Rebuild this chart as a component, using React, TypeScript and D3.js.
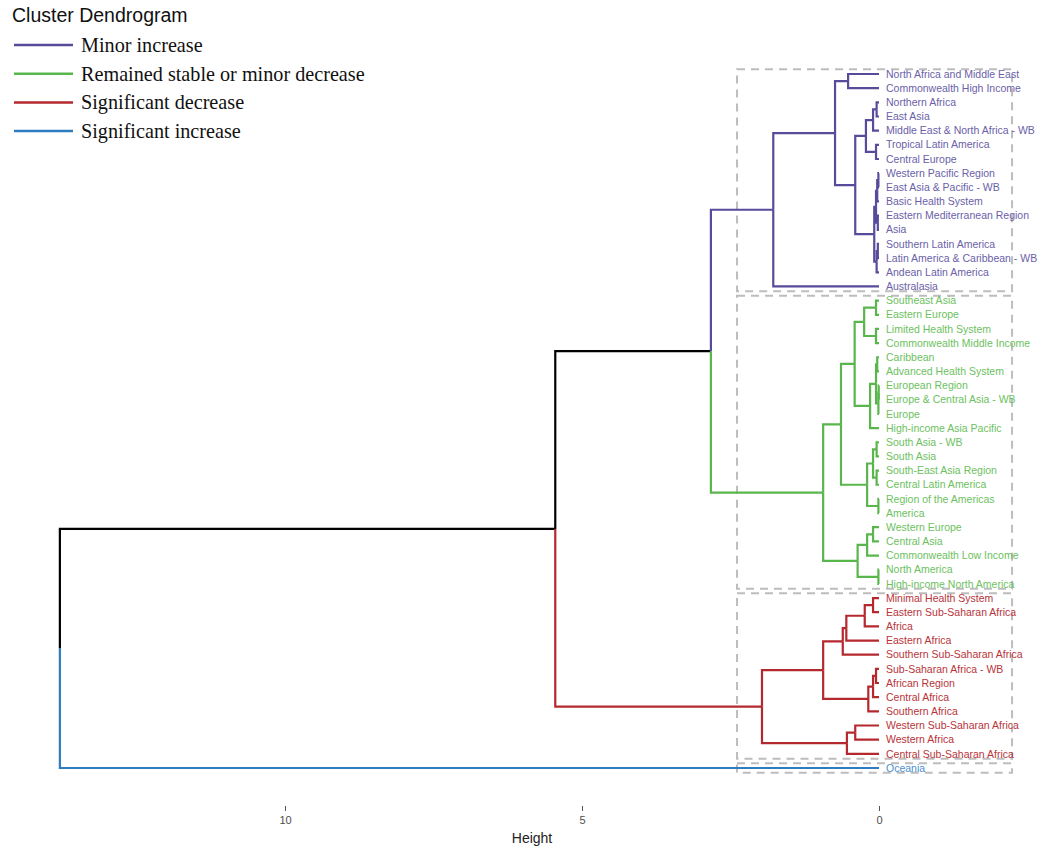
import React, { useEffect, useRef } from 'react';
import * as d3 from 'd3';

// cluster membership (top-to-bottom leaf order)
const minorIncrease = [
  'North Africa and Middle East', 'Commonwealth High Income', 'Northern Africa', 'East Asia',
  'Middle East & North Africa - WB', 'Tropical Latin America', 'Central Europe',
  'Western Pacific Region', 'East Asia & Pacific - WB', 'Basic Health System',
  'Eastern Mediterranean Region', 'Asia', 'Southern Latin America',
  'Latin America & Caribbean - WB', 'Andean Latin America', 'Australasia',
];
const stableOrMinorDecrease = [
  'Southeast Asia', 'Eastern Europe', 'Limited Health System', 'Commonwealth Middle Income',
  'Caribbean', 'Advanced Health System', 'European Region', 'Europe & Central Asia - WB',
  'Europe', 'High-income Asia Pacific', 'South Asia - WB', 'South Asia',
  'South-East Asia Region', 'Central Latin America', 'Region of the Americas', 'America',
  'Western Europe', 'Central Asia', 'Commonwealth Low Income', 'North America',
  'High-income North America',
];
const significantDecrease = [
  'Minimal Health System', 'Eastern Sub-Saharan Africa', 'Africa', 'Eastern Africa',
  'Southern Sub-Saharan Africa', 'Sub-Saharan Africa - WB', 'African Region', 'Central Africa',
  'Southern Africa', 'Western Sub-Saharan Africa', 'Western Africa', 'Central Sub-Saharan Africa',
];
const significantIncrease = ['Oceania'];

// hclust-style merges: [left, right, height]; numbers point to earlier merges
const merges: [string | number, string | number, number][] = [
  // minor increase
  ['Northern Africa', 'East Asia', 0.04], // 0
  [0, 'Middle East & North Africa - WB', 0.1], // 1
  ['Tropical Latin America', 'Central Europe', 0.05], // 2
  [1, 2, 0.22], // 3
  ['Western Pacific Region', 'East Asia & Pacific - WB', 0.01], // 4
  [4, 'Basic Health System', 0.03], // 5
  ['Eastern Mediterranean Region', 'Asia', 0.02], // 6
  [5, 6, 0.05], // 7
  ['Southern Latin America', 'Latin America & Caribbean - WB', 0.02], // 8
  [8, 'Andean Latin America', 0.04], // 9
  [7, 9, 0.08], // 10
  [3, 10, 0.4], // 11
  ['North Africa and Middle East', 'Commonwealth High Income', 0.52], // 12
  [12, 11, 0.74], // 13
  [13, 'Australasia', 1.78], // 14
  // remained stable or minor decrease
  ['Southeast Asia', 'Eastern Europe', 0.05], // 15
  ['Limited Health System', 'Commonwealth Middle Income', 0.05], // 16
  [15, 16, 0.25], // 17
  ['Caribbean', 'Advanced Health System', 0.03], // 18
  ['European Region', 'Europe & Central Asia - WB', 0.005], // 19
  [19, 'Europe', 0.01], // 20
  [18, 20, 0.05], // 21
  [21, 'High-income Asia Pacific', 0.15], // 22
  [17, 22, 0.41], // 23
  ['South Asia - WB', 'South Asia', 0.04], // 24
  ['South-East Asia Region', 'Central Latin America', 0.04], // 25
  [24, 25, 0.1], // 26
  ['Region of the Americas', 'America', 0.01], // 27
  [26, 27, 0.2], // 28
  [23, 28, 0.64], // 29
  ['Western Europe', 'Central Asia', 0.1], // 30
  [30, 'Commonwealth Low Income', 0.2], // 31
  ['North America', 'High-income North America', 0.01], // 32
  [31, 32, 0.36], // 33
  [29, 33, 0.94], // 34
  // significant decrease
  ['Minimal Health System', 'Eastern Sub-Saharan Africa', 0.1], // 35
  [35, 'Africa', 0.24], // 36
  [36, 'Eastern Africa', 0.55], // 37
  [37, 'Southern Sub-Saharan Africa', 0.61], // 38
  ['Sub-Saharan Africa - WB', 'African Region', 0.05], // 39
  [39, 'Central Africa', 0.1], // 40
  [40, 'Southern Africa', 0.18], // 41
  [38, 41, 0.94], // 42
  ['Western Sub-Saharan Africa', 'Western Africa', 0.4], // 43
  [43, 'Central Sub-Saharan Africa', 0.54], // 44
  [42, 44, 1.97], // 45
  // top of tree
  [14, 34, 2.83], // 46
  [46, 45, 5.45], // 47
  [47, 'Oceania', 13.79], // 48
];

const legendLabels = ['Minor increase', 'Remained stable or minor decrease', 'Significant decrease', 'Significant increase'];
const lineColors = ['#574b9b', '#59b64c', '#b5282e', '#2e7dc0'];
const textColors = ['#6a61a8', '#6cc160', '#b8343a', '#4a8fcf'];
const clusters = [minorIncrease, stableOrMinorDecrease, significantDecrease, significantIncrease];
const heightTicks = [10, 5, 0];

interface TreeNode {
  name?: string;
  height: number;
  children?: TreeNode[];
}

const build = (ref: string | number): TreeNode => {
  if (typeof ref === 'string') return { name: ref, height: 0 };
  const [l, r, h] = merges[ref];
  return { height: h, children: [build(l), build(r)] };
};

const clusterOf = (name: string) => clusters.findIndex(c => c.includes(name));

export default function App() {
  const svgRef = useRef<SVGSVGElement>(null);

  useEffect(() => {
    if (!svgRef.current) return;
    const svg = d3.select(svgRef.current);
    svg.selectAll('*').remove();

    const root = d3.hierarchy<TreeNode>(build(merges.length - 1));
    const leafNames = root.leaves().map(d => d.data.name as string);

    const x = d3.scaleLinear().domain([0, 10]).range([879, 285]);
    const y = d3.scalePoint<string>().domain(leafNames).range([74, 768]);
    const step = y.step();

    const yPos = new Map<any, number>();
    const grp = new Map<any, number>();
    root.eachAfter(n => {
      if (!n.children) {
        yPos.set(n, y(n.data.name as string) as number);
        grp.set(n, clusterOf(n.data.name as string));
      } else {
        yPos.set(n, d3.mean(n.children, c => yPos.get(c)) as number);
        const gs = n.children.map(c => grp.get(c));
        grp.set(n, gs.every(g => g === gs[0]) ? (gs[0] as number) : -1);
      }
    });

    svg.append('rect').attr('width', 1040).attr('height', 854).attr('fill', '#fff');

    // cluster rectangles
    clusters.forEach(c => {
      const top = (y(c[0]) as number) - step * 0.34;
      const bottom = (y(c[c.length - 1]) as number) + step * 0.34;
      svg
        .append('rect')
        .attr('x', x(2.39))
        .attr('y', top)
        .attr('width', x(-2.24) - x(2.39))
        .attr('height', bottom - top)
        .attr('fill', 'none')
        .attr('stroke', '#bdbdbd')
        .attr('stroke-width', 2)
        .attr('stroke-dasharray', '8,6');
    });

    // links
    svg
      .append('g')
      .selectAll('path')
      .data(root.descendants().filter(d => d.parent))
      .enter()
      .append('path')
      .attr('d', d => {
        const p = d.parent!;
        return `M${x(p.data.height)},${yPos.get(p)}V${yPos.get(d)}H${x(d.data.height)}`;
      })
      .attr('fill', 'none')
      .attr('stroke', d => (grp.get(d)! >= 0 ? lineColors[grp.get(d)!] : '#000'))
      .attr('stroke-width', 2.2);

    // leaf labels
    svg
      .append('g')
      .selectAll('text')
      .data(root.leaves())
      .enter()
      .append('text')
      .attr('x', x(0) + 7)
      .attr('y', d => yPos.get(d)!)
      .attr('dy', '0.35em')
      .attr('font-family', 'Liberation Sans, Arial, sans-serif')
      .attr('font-size', 10.5)
      .attr('fill', d => textColors[grp.get(d)!])
      .text(d => d.data.name as string);

    // axis
    const axis = svg
      .append('g')
      .attr('transform', 'translate(0,806)')
      .call(d3.axisBottom(x).tickValues(heightTicks).tickSize(5).tickPadding(5));
    axis.select('.domain').remove();
    axis.selectAll('line').attr('stroke', '#555');
    axis
      .selectAll('text')
      .attr('font-family', 'Liberation Sans, Arial, sans-serif')
      .attr('font-size', 11)
      .attr('fill', '#4d4d4d');

    svg
      .append('text')
      .attr('x', 532)
      .attr('y', 843)
      .attr('text-anchor', 'middle')
      .attr('font-family', 'Liberation Sans, Arial, sans-serif')
      .attr('font-size', 14)
      .attr('fill', '#222')
      .text('Height');

    // title + legend
    svg
      .append('text')
      .attr('x', 12)
      .attr('y', 22)
      .attr('font-family', 'Liberation Sans, Arial, sans-serif')
      .attr('font-size', 19.5)
      .attr('fill', '#111')
      .text('Cluster Dendrogram');

    const legend = svg
      .append('g')
      .selectAll('g')
      .data(legendLabels)
      .enter()
      .append('g')
      .attr('transform', (_d, i) => `translate(0,${45 + i * 28.7})`);
    legend
      .append('line')
      .attr('x1', 14)
      .attr('x2', 73)
      .attr('stroke', (_d, i) => lineColors[i])
      .attr('stroke-width', 2.5);
    legend
      .append('text')
      .attr('x', 81)
      .attr('dy', '0.35em')
      .attr('font-family', 'Liberation Serif, Times New Roman, serif')
      .attr('font-size', 20.2)
      .attr('fill', '#111')
      .text(d => d);
  }, []);

  return <svg ref={svgRef} width={1040} height={854} style={{ position: 'absolute', left: 0, top: 0 }} />;
}
